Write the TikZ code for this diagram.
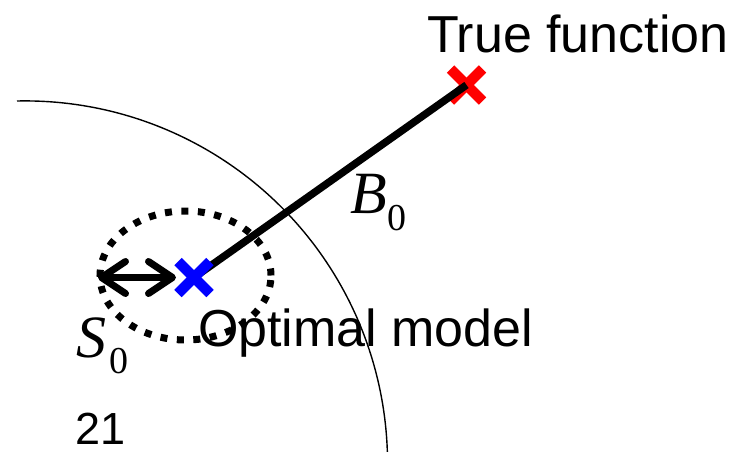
\documentclass[tikz,border=0pt]{standalone}
\usepackage{fontspec}
\setmainfont{Liberation Sans}
\newfontfamily\tnr{Liberation Serif}
\usetikzlibrary{arrows.meta,shapes.geometric,calc}
\begin{document}
\begin{tikzpicture}[x=1pt,y=-1pt,
  lbl/.style={inner sep=0pt,outer sep=0pt,anchor=base west,font=\fontsize{52}{60}\selectfont},
  mathlbl/.style={inner sep=0pt,outer sep=0pt,anchor=base west},
  crossmark/.style={line width=10.5pt}]
\useasboundingbox (0,0) rectangle (736,451);
% big arc
\begin{scope}
\clip (0,0) rectangle (736,451);
\coordinate (arcstart) at (17,101);
\draw[line width=1.4pt] (arcstart) arc[start angle=-91.27,end angle=0,radius=362.5];
\end{scope}
% dotted ellipse
\node[draw,ellipse,line width=7pt,dash pattern=on 7pt off 9.5pt,minimum width=171pt,minimum height=129pt,inner sep=0pt] (ell) at (185.5,275.5) {};
% points
\coordinate (opt) at (194,277.5);
\coordinate (tru) at (466.5,85);
\coordinate (left) at (98,277.5);
\coordinate (leftin) at (176,277.5);
% red cross
\draw[crossmark,red] ($(tru)+(-16,-16)$) -- ($(tru)+(16,16)$);
\draw[crossmark,red] ($(tru)+(-16,16)$) -- ($(tru)+(16,-16)$);
% connecting line
\draw[line width=7.5pt] (opt) -- (tru);
% blue cross
\draw[crossmark,blue] ($(opt)+(-16,-16)$) -- ($(opt)+(16,16)$);
\draw[crossmark,blue] ($(opt)+(-16,16)$) -- ($(opt)+(16,-16)$);
% double arrow
\draw[line width=7pt,line cap=round,{Straight Barb[length=24pt,width=32pt,line width=7pt,round]}-{Straight Barb[length=24pt,width=32pt,line width=7pt,round]}] (left) -- (leftin);
% labels
\node[lbl] (tf) at (427,52) {True function};
\node[lbl] (om) at (198,346) {Optimal model};
\node[inner sep=0pt,anchor=base west,font=\fontsize{45}{50}\selectfont] (num) at (75,444) {21};
\node[mathlbl] (s0) at (76,357) {\fontsize{60}{60}\selectfont\tnr\itshape S\kern3pt\raisebox{-16pt}{\fontsize{38}{38}\selectfont\upshape 0}};
\node[mathlbl] (b0) at (350,213) {\fontsize{60}{60}\selectfont\tnr\itshape B\kern1pt\raisebox{-17pt}{\fontsize{38}{38}\selectfont\upshape 0}};
\end{tikzpicture}
\end{document}
